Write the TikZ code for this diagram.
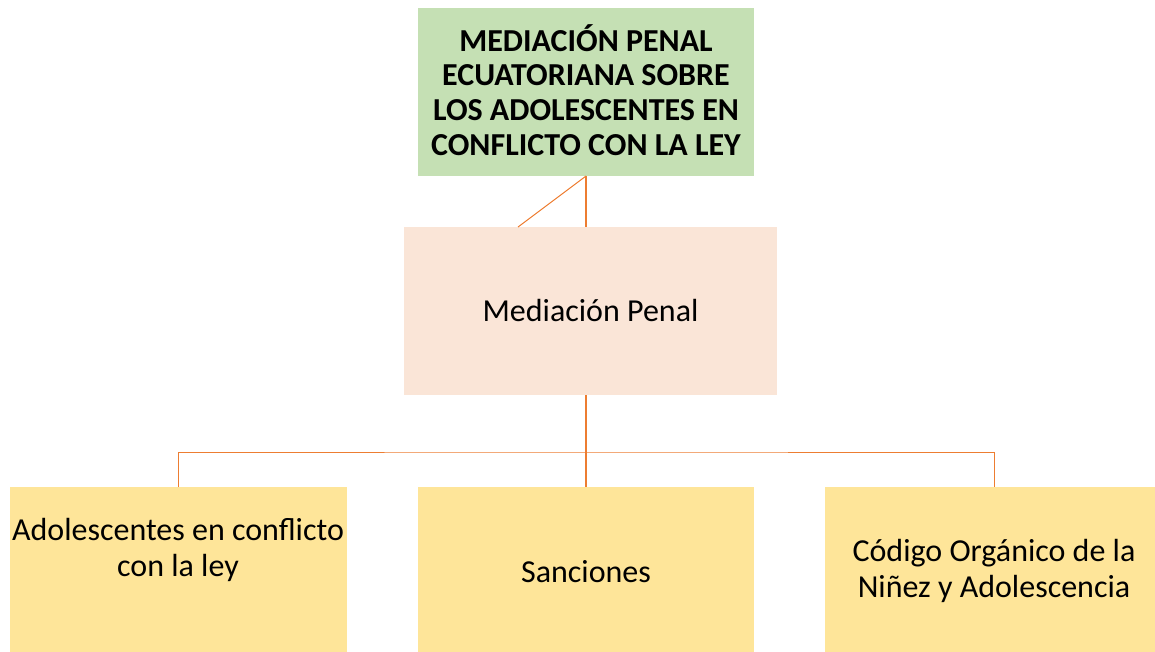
\documentclass[tikz,border=0pt]{standalone}
\usepackage{fontspec}
\setmainfont{Carlito}
\usetikzlibrary{calc}
\definecolor{titlegreen}{HTML}{C5E0B4}
\definecolor{peach}{HTML}{FAE5D7}
\definecolor{softyellow}{HTML}{FEE599}
\definecolor{lineorange}{HTML}{ED7D31}
\tikzset{
  boxbase/.style={inner sep=0pt, outer sep=0pt, align=center, text=black},
  titlebox/.style={boxbase, fill=titlegreen, minimum width=336pt, minimum height=168pt},
  titletext/.style={boxbase, font=\fontsize{32}{34.7}\selectfont\bfseries},
  midbox/.style={boxbase, fill=peach, minimum width=373pt, minimum height=168pt,
     font=\fontsize{32}{35}\selectfont},
  leafbox/.style={boxbase, fill=softyellow, minimum height=165pt},
  leaftext/.style={boxbase, font=\fontsize{32}{35.5}\selectfont},
  conn/.style={draw=lineorange, line width=1.3pt},
  thinconn/.style={draw=lineorange, line width=1pt}
}
\begin{document}
\begin{tikzpicture}[x=1pt,y=-1pt]
\useasboundingbox (0,0) rectangle (1155,652);
\node[titlebox] (top) at (586,92) {};
\node[titletext] (toptext) at (586,90) {MEDIACIÓN PENAL\\ECUATORIANA SOBRE\\LOS ADOLESCENTES EN\\CONFLICTO CON LA LEY};
\node[midbox] (mid) at (590.5,311) {Mediación Penal};
\node[leafbox, minimum width=337pt] (l) at (178.5,569.5) {};
\node[leafbox, minimum width=336pt] (s) at (586,569.5) {};
\node[leafbox, minimum width=330pt] (r) at (990,569.5) {};
\node[leaftext] (ltext) at (178,550) {Adolescentes en conflicto\\con la ley};
\node[leaftext] (stext) at (586,572) {Sanciones};
\node[leaftext] (rtext) at (994,571) {Código Orgánico de la\\Niñez y Adolescencia};
% connectors
\coordinate (diagend) at (518,227);
\coordinate (bus) at (586,452);
\coordinate (rtop) at (994,487);
\draw[conn] (top.south) -- (top.south |- mid.north);
\draw[thinconn] (top.south) -- (diagend);
\draw[conn] (top.south |- mid.south) -- (s.north);
\draw[thinconn] (l.north) |- (bus) -| (rtop);
\end{tikzpicture}
\end{document}
